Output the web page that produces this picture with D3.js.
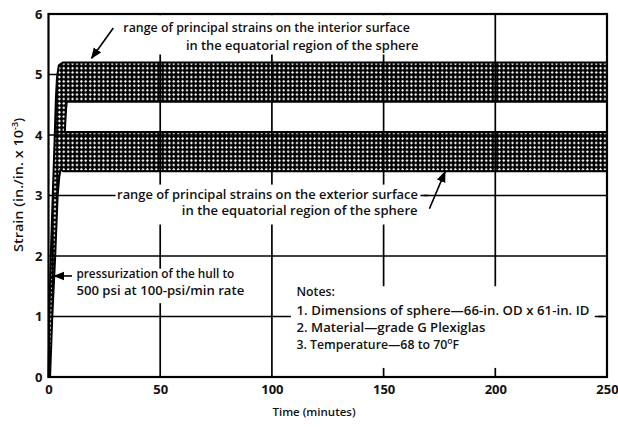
<!DOCTYPE html>
<html><head><meta charset="utf-8">
<script src="https://cdn.jsdelivr.net/npm/d3@7"></script>
<style>
html,body{margin:0;padding:0;background:#fff;}
svg{display:block;}
text{font-family:"Open Sans",Lato,sans-serif;font-weight:600;fill:#111;}
</style></head>
<body>
<svg id="c" width="618" height="427"></svg>
<script>
// ---- data ----
const xTicks = [0, 50, 100, 150, 200, 250];
const yTicks = [0, 1, 2, 3, 4, 5, 6];
const interiorBand = [4.55, 5.2];   // min, max strain (in/in x 1e-3)
const exteriorBand = [3.4, 4.05];
const bandStart = 6.5;              // minutes, plateau starts
const riseLeft = [[0,0],[0.4,1],[1.0,2],[1.9,3],[2.8,4],[3.3,4.6],[3.8,4.95],[4.6,5.15],[6.5,5.2]];
const riseRight = [[0.7,0],[1.7,1],[3.0,2],[4.1,3],[4.8,3.3]];
const riseMid = [[7.3,4.05],[7.9,4.45],[8.2,4.55]];
const interiorText = ["range of principal strains on the interior surface", "in the equatorial region of the sphere"];
const exteriorText = ["range of principal strains on the exterior surface", "in the equatorial region of the sphere"];
const pressText = ["pressurization of the hull to", "500 psi at 100-psi/min rate"];
const notesText = ["Notes:", "1.  Dimensions of sphere\u201466-in. OD x 61-in. ID", "2.  Material\u2014grade G Plexiglas", "3.  Temperature\u201468 to 70"];

// ---- layout (target pixel widths of text lines; null = natural) ----
const interiorW = [287, 233], exteriorW = [301, 236], pressW = [158, 168], notesW = [null, 293, 189, null];

// ---- scales ----
const svg = d3.select("#c");
const x = d3.scaleLinear().domain([0, 250]).range([48.5, 607]);
const y = d3.scaleLinear().domain([0, 6]).range([377, 14]);

const defs = svg.append("defs");
const C = 4.4;
const pat = defs.append("pattern").attr("id","hatch").attr("patternUnits","userSpaceOnUse")
  .attr("width",C).attr("height",C);
pat.append("rect").attr("width",C).attr("height",C).attr("fill","#000");
pat.append("path").attr("d",`M${C/2},${C/2-1.5} L${C/2+1.5},${C/2} L${C/2},${C/2+1.5} L${C/2-1.5},${C/2} Z`).attr("fill","#fff");
defs.append("marker").attr("id","ah").attr("viewBox","0 0 10 10").attr("refX",9).attr("refY",5)
  .attr("markerWidth",7).attr("markerHeight",7).attr("orient","auto-start-reverse")
  .append("path").attr("d","M0,1 L10,5 L0,9 Z").attr("fill","#000");

// ---- band shape ----
const pts = [];
riseLeft.forEach(p => pts.push(p));
pts.push([250, interiorBand[1]], [250, interiorBand[0]]);
riseMid.slice().reverse().forEach(p => pts.push(p));
pts.push([250, exteriorBand[1]], [250, exteriorBand[0]], [bandStart, exteriorBand[0]], [5.4, exteriorBand[0]+0.03]);
riseRight.slice().reverse().forEach(p => pts.push(p));
const line = d3.line().x(d => x(d[0])).y(d => y(d[1]));
svg.append("path").attr("d", line(pts) + "Z").attr("fill","url(#hatch)")
  .attr("stroke","#000").attr("stroke-width",2).attr("stroke-linejoin","round");

// ---- grid ----
const g = svg.append("g").attr("stroke","#000").attr("stroke-width",1.7);
xTicks.slice(1,-1).forEach(t => g.append("line").attr("x1",x(t)).attr("x2",x(t)).attr("y1",y(0)).attr("y2",y(6)));
yTicks.slice(1,-1).forEach(t => g.append("line").attr("x1",x(0)).attr("x2",x(250)).attr("y1",y(t)).attr("y2",y(t)));

// white label areas interrupting the grid
const wb = (x0,x1,y0,y1) => svg.append("rect").attr("x",x(x0)).attr("y",y(y1)).attr("width",x(x1)-x(x0)).attr("height",y(y0)-y(y1)).attr("fill","#fff");
wb(14, 169, 5.33, 5.98);
wb(30, 168, 2.52, 3.18);
wb(11.5, 86, 1.22, 1.79);
wb(108.5, 244.5, 0.15, 1.5);

// frame
svg.append("rect").attr("x",x(0)).attr("y",y(6)).attr("width",x(250)-x(0)).attr("height",y(0)-y(6))
  .attr("fill","none").attr("stroke","#000").attr("stroke-width",2.2);

// axes
const fmt = d3.format("d");
const xAxis = d3.axisBottom(x).tickValues(xTicks).tickFormat(fmt).tickSize(0).tickPadding(8);
svg.append("g").attr("transform",`translate(0,${y(0)})`).call(xAxis)
  .call(a => a.select(".domain").remove())
  .selectAll("text").style("font-size","13px").style("font-family","'Open Sans',sans-serif").style("font-weight","700").attr("fill","#111");
const yAxis = d3.axisLeft(y).tickValues(yTicks).tickFormat(fmt).tickSize(0).tickPadding(6);
svg.append("g").attr("transform",`translate(${x(0)},0)`).call(yAxis)
  .call(a => a.select(".domain").remove())
  .selectAll("text").style("font-size","13px").style("font-family","'Open Sans',sans-serif").style("font-weight","700").attr("fill","#111");

// fit a text/tspan to a target width: scale font size, then fine-tune spacing
function fit(sel, target, base) {
  sel.style("font-size", base + "px");
  if (target == null) return base;
  const n = sel.node().getComputedTextLength();
  const fs = Math.max(11.8, Math.min(13.2, base * target / n));
  sel.style("font-size", fs + "px");
  const n2 = sel.node().getComputedTextLength();
  if (Math.abs(n2 - target) > 1) sel.attr("textLength", target).attr("lengthAdjust", "spacing");
  return fs;
}

// axis titles
svg.append("text").attr("x",314).attr("y",416).attr("text-anchor","middle").style("font-size","11.5px").text("Time (minutes)");
const yt = svg.append("text").attr("transform",`translate(23,${185}) rotate(-90)`).attr("text-anchor","middle")
  .style("font-size","12.5px");
yt.append("tspan").attr("textLength",122).attr("lengthAdjust","spacingAndGlyphs").text("Strain (in./in. x 10");
yt.append("tspan").attr("dy",-5).style("font-size","9px").text("-3");
yt.append("tspan").attr("dy",5).text(")");

// annotations
const ann = (lines, xs, ys, ws) => lines.forEach((s,i) =>
  fit(svg.append("text").attr("x",x(xs[i])).attr("y",y(ys[i])).text(s), ws[i], 12.5));
ann(interiorText, [33.5, 61.5], [5.71, 5.40], interiorW);
ann(exteriorText, [30.7, 59.7], [2.95, 2.67], exteriorW);
ann(pressText, [12.5, 12.5], [1.63, 1.35], pressW);
notesText.forEach((s,i) => {
  const t = svg.append("text").attr("x",x(111)).attr("y",y([1.34, 1.03, 0.75, 0.47][i]));
  const fs = fit(t.append("tspan").text(s), notesW[i], 12.3);
  if (i === 3) {
    t.append("tspan").attr("dy",-5).style("font-size",(fs*0.7)+"px").text("o");
    t.append("tspan").attr("dy",5).style("font-size",fs+"px").text("F");
  }
});
svg.append("line").attr("x1",x(246)).attr("x2",x(248.5)).attr("y1",y(1)).attr("y2",y(1)).attr("stroke","#000").attr("stroke-width",1.6);
svg.append("line").attr("x1",x(166.5)).attr("x2",x(170)).attr("y1",y(3)).attr("y2",y(3)).attr("stroke","#000").attr("stroke-width",1.6);

// arrows
const arrow = (a,b) => svg.append("line").attr("x1",x(a[0])).attr("y1",y(a[1])).attr("x2",x(b[0])).attr("y2",y(b[1]))
  .attr("stroke","#000").attr("stroke-width",1.6).attr("marker-end","url(#ah)");
arrow([29, 5.77], [19.3, 5.27]);
arrow([170.5, 2.78], [177.5, 3.39]);
arrow([10.5, 1.67], [2.6, 1.67]);
</script>
</body></html>
